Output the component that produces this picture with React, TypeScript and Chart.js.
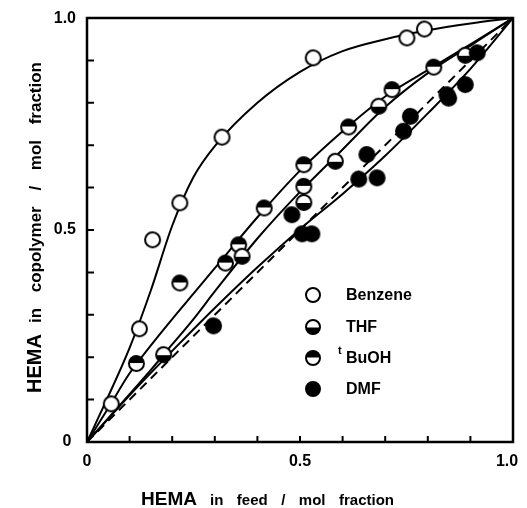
import React, { useEffect, useRef } from "react";
import { Chart, registerables } from "chart.js";

Chart.register(...registerables);

// Measured points: HEMA mol fraction in feed (x) vs in copolymer (y)
const benzeneFeed = [0.057, 0.123, 0.154, 0.218, 0.317, 0.531, 0.751, 0.792];
const benzeneCopolymer = [0.09, 0.267, 0.477, 0.564, 0.719, 0.906, 0.953, 0.974];

const thfFeed = [0.18, 0.364, 0.509, 0.583, 0.685, 0.888];
const thfCopolymer = [0.206, 0.438, 0.565, 0.662, 0.792, 0.912];

const tbuohFeed = [0.116, 0.218, 0.325, 0.356, 0.416, 0.509, 0.509, 0.614, 0.716, 0.814];
const tbuohCopolymer = [0.185, 0.375, 0.422, 0.465, 0.552, 0.654, 0.603, 0.743, 0.831, 0.884];

const dmfFeed = [0.297, 0.481, 0.505, 0.528, 0.638, 0.657, 0.681, 0.743, 0.759, 0.845, 0.849, 0.888, 0.916];
const dmfCopolymer = [0.274, 0.536, 0.491, 0.491, 0.62, 0.678, 0.623, 0.733, 0.768, 0.819, 0.811, 0.843, 0.918];

// Fitted curves
const curveFeed = [0, 0.05, 0.1, 0.15, 0.2, 0.25, 0.3, 0.4, 0.5, 0.6, 0.7, 0.8, 0.9, 1];
const benzeneCurve = [0, 0.108, 0.222, 0.358, 0.51, 0.625, 0.698, 0.8, 0.873, 0.922, 0.95, 0.971, 0.987, 1];
const tbuohCurve = [0, 0.08, 0.162, 0.228, 0.29, 0.35, 0.41, 0.53, 0.64, 0.733, 0.815, 0.877, 0.938, 1];
const thfCurve = [0, 0.056, 0.113, 0.17, 0.23, 0.29, 0.355, 0.48, 0.59, 0.69, 0.79, 0.87, 0.935, 1];
const dmfCurve = [0, 0.055, 0.11, 0.163, 0.215, 0.266, 0.316, 0.412, 0.502, 0.585, 0.675, 0.775, 0.88, 1];
const diagonalFeed = [0, 1];
const diagonalCopolymer = [0, 1];

const tickLabelValues = [0, 0.5, 1];
const tickLabels = ["0", "0.5", "1.0"];
const minorTickValues = [0.1, 0.2, 0.3, 0.4, 0.5, 0.6, 0.7, 0.8, 0.9];

const legendNames = ["Benzene", "THF", "BuOH", "DMF"];
const legendKinds = ["open", "topWhite", "topBlack", "filled"];

const xTitleWords = ["in", "feed", "/", "mol", "fraction"];
const yTitleWords = ["in", "copolymer", "/", "mol", "fraction"];
const titleLead = "HEMA";

const FONT = '"Liberation Sans", Arial, Helvetica, sans-serif';

function makeMarker(kind: string, r: number): HTMLCanvasElement {
  const size = Math.ceil(2 * r + 4);
  const c = document.createElement("canvas");
  c.width = size;
  c.height = size;
  const ctx = c.getContext("2d")!;
  const cx = size / 2;
  const cy = size / 2;
  ctx.beginPath();
  ctx.arc(cx, cy, r, 0, Math.PI * 2);
  ctx.fillStyle = kind === "filled" ? "#000" : "#fff";
  ctx.fill();
  if (kind === "topWhite") {
    ctx.beginPath();
    ctx.arc(cx, cy + 0.5, r, 0, Math.PI);
    ctx.closePath();
    ctx.fillStyle = "#000";
    ctx.fill();
  }
  if (kind === "topBlack") {
    ctx.beginPath();
    ctx.arc(cx, cy - 0.5, r, Math.PI, Math.PI * 2);
    ctx.closePath();
    ctx.fillStyle = "#000";
    ctx.fill();
  }
  ctx.beginPath();
  ctx.arc(cx, cy, r, 0, Math.PI * 2);
  ctx.lineWidth = 2;
  ctx.strokeStyle = "#000";
  ctx.stroke();
  return c;
}

function pts(xs: number[], ys: number[]) {
  return xs.map((x, i) => ({ x, y: ys[i] }));
}

// draws words evenly spread between start and end along the current x direction
function spreadWords(ctx: CanvasRenderingContext2D, words: string[], start: number, end: number) {
  const widths = words.map((w) => ctx.measureText(w).width);
  const total = widths.reduce((s, v) => s + v, 0);
  const gap = (end - start - total) / (words.length - 1);
  let x = start;
  words.forEach((w, i) => {
    ctx.fillText(w, x, 0);
    x += widths[i] + gap;
  });
}

export default function App() {
  const ref = useRef<HTMLCanvasElement | null>(null);

  useEffect(() => {
    if (!ref.current) return;
    const markers: Record<string, HTMLCanvasElement> = {
      open: makeMarker("open", 7.5),
      topWhite: makeMarker("topWhite", 7.5),
      topBlack: makeMarker("topBlack", 7.5),
      filled: makeMarker("filled", 7.5),
    };
    const legendMarkers: Record<string, HTMLCanvasElement> = {
      open: makeMarker("open", 7),
      topWhite: makeMarker("topWhite", 7),
      topBlack: makeMarker("topBlack", 7),
      filled: makeMarker("filled", 7),
    };

    const lineDs = (xs: number[], ys: number[], dash: number[] = []) => ({
      type: "line" as const,
      data: pts(xs, ys),
      showLine: true,
      borderColor: "#000",
      borderWidth: 2,
      borderDash: dash,
      pointRadius: 0,
      fill: false,
      cubicInterpolationMode: "monotone" as const,
      order: 10,
    });
    const pointDs = (xs: number[], ys: number[], kind: string) => ({
      type: "scatter" as const,
      data: pts(xs, ys),
      pointStyle: markers[kind],
      pointRadius: 8,
      showLine: false,
      order: 0,
    });

    const decor = {
      id: "decor",
      afterDatasetsDraw(chart: any) {
        const { ctx, chartArea: a, scales } = chart;
        const xs = scales.x;
        const ys = scales.y;
        ctx.save();
        // frame
        ctx.strokeStyle = "#000";
        ctx.lineWidth = 2.5;
        ctx.strokeRect(a.left, a.top, a.right - a.left, a.bottom - a.top);
        // inward minor ticks
        ctx.lineWidth = 2;
        ctx.beginPath();
        for (const v of minorTickValues) {
          const px = xs.getPixelForValue(v);
          ctx.moveTo(px, a.bottom);
          ctx.lineTo(px, a.bottom - 6);
          const py = ys.getPixelForValue(v);
          ctx.moveTo(a.left, py);
          ctx.lineTo(a.left + 7, py);
        }
        ctx.stroke();

        // tick labels
        ctx.fillStyle = "#000";
        ctx.font = `bold 16px ${FONT}`;
        ctx.textBaseline = "middle";
        tickLabelValues.forEach((v, i) => {
          const px = xs.getPixelForValue(v);
          ctx.textAlign = "center";
          const shift = v === 1 ? -6 : 0;
          ctx.fillText(tickLabels[i], px + shift, a.bottom + 20);
          const py = ys.getPixelForValue(v);
          ctx.textAlign = v === 0 ? "center" : "right";
          ctx.fillText(tickLabels[i], v === 0 ? 67 : 76, py + (v === 1 ? 1 : 0));
        });

        // x title
        ctx.textAlign = "left";
        ctx.textBaseline = "alphabetic";
        ctx.save();
        ctx.translate(0, 505);
        ctx.font = `bold 19px ${FONT}`;
        ctx.fillText(titleLead, 141, 0);
        ctx.font = `bold 15px ${FONT}`;
        spreadWords(ctx, xTitleWords, 210, 394);
        ctx.restore();

        // y title, rotated
        ctx.save();
        ctx.translate(41, 508);
        ctx.rotate(-Math.PI / 2);
        ctx.font = `bold 20px ${FONT}`;
        ctx.fillText(titleLead, 115, 0);
        ctx.font = `bold 17px ${FONT}`;
        spreadWords(ctx, yTitleWords, 185, 446);
        ctx.restore();

        // legend
        const legY = [295, 327, 358, 389];
        legendNames.forEach((name, i) => {
          const m = legendMarkers[legendKinds[i]];
          ctx.drawImage(m, 313 - m.width / 2, legY[i] - m.height / 2);
          ctx.font = `bold 16px ${FONT}`;
          ctx.textBaseline = "middle";
          ctx.textAlign = "left";
          ctx.fillText(name, 346, legY[i] + 1);
          if (i === 2) {
            ctx.font = `bold 11px ${FONT}`;
            ctx.fillText("t", 338, legY[i] - 7);
          }
        });
        ctx.restore();
      },
    };

    const chart = new Chart(ref.current, {
      type: "scatter",
      data: {
        datasets: [
          lineDs(diagonalFeed, diagonalCopolymer, [9, 6]),
          lineDs(curveFeed, benzeneCurve),
          lineDs(curveFeed, tbuohCurve),
          lineDs(curveFeed, thfCurve),
          lineDs(curveFeed, dmfCurve),
          pointDs(dmfFeed, dmfCopolymer, "filled"),
          pointDs(thfFeed, thfCopolymer, "topWhite"),
          pointDs(tbuohFeed, tbuohCopolymer, "topBlack"),
          pointDs(benzeneFeed, benzeneCopolymer, "open"),
        ] as any,
      },
      options: {
        responsive: false,
        animation: false,
        events: [],
        layout: { padding: { left: 0, top: 18, right: 14, bottom: 0 } },
        plugins: { legend: { display: false }, tooltip: { enabled: false }, title: { display: false } },
        scales: {
          x: {
            type: "linear",
            min: 0,
            max: 1,
            grid: { display: false },
            border: { display: false },
            ticks: { display: false },
            afterFit: (s: any) => {
              s.height = 66;
            },
          },
          y: {
            type: "linear",
            min: 0,
            max: 1,
            grid: { display: false },
            border: { display: false },
            ticks: { display: false },
            afterFit: (s: any) => {
              s.width = 87;
            },
          },
        },
      },
      plugins: [decor],
    });
    return () => chart.destroy();
  }, []);

  return (
    <div style={{ position: "absolute", left: 0, top: 0, width: 527, height: 508, background: "#fff" }}>
      <canvas ref={ref} width={527} height={508} style={{ display: "block" }} />
    </div>
  );
}
